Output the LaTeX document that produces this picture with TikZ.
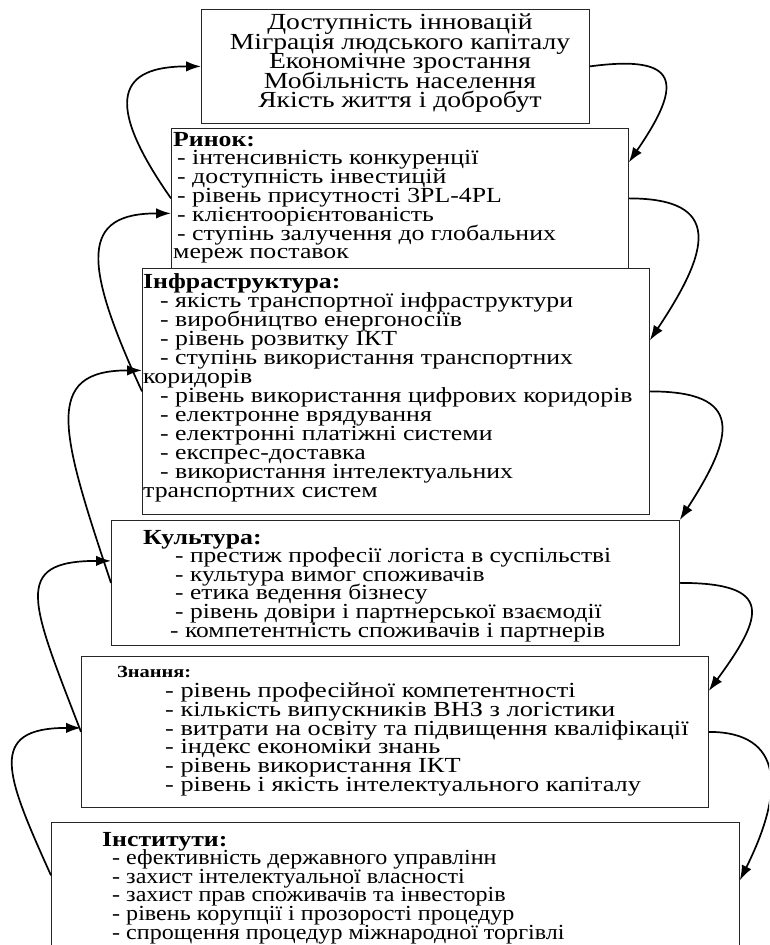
\documentclass[tikz,border=0pt]{standalone}
\usepackage{fontspec}
\setmainfont{Liberation Serif}[FakeStretch=1.2]
\newfontfamily\narrowf{Liberation Serif}[FakeStretch=1.12]
\newfontfamily\widef{Liberation Serif}[FakeStretch=1.225]
\newfontfamily\culf{Liberation Serif}[FakeStretch=1.185]
\newcommand\tightls{\lineskiplimit -100pt\relax}
\usetikzlibrary{arrows.meta}
\begin{document}
\tightls
\begin{tikzpicture}[x=1pt,y=1pt,
  box/.style={draw=black!85, line width=0.8pt, anchor=north west, inner sep=0pt},
  txt/.style={anchor=north west, inner sep=0pt, align=left, font=\fontsize{21.5}{18.8}\selectfont\tightls},
  arr/.style={line width=1.7pt, -{Latex[length=15pt,width=10.5pt]}}]
\useasboundingbox (0,0) rectangle (769,945);
\clip (0,0) rectangle (769,945);
% boxes
\node[box, minimum width=388pt, minimum height=114pt] (b1) at (201,936) {};
\node[box, minimum width=457pt, minimum height=140pt] (b2) at (171,817) {};
\node[box, minimum width=507pt, minimum height=246pt] (b3) at (142,677) {};
\node[box, minimum width=568pt, minimum height=125pt] (b4) at (111,425) {};
\node[box, minimum width=627pt, minimum height=151pt] (b5) at (81,289) {};
\node[box, minimum width=688pt, minimum height=140pt] (b6) at (51,123) {};
% texts
\node[txt, anchor=north, align=center, font=\fontsize{23}{19.6}\selectfont\tightls] (t1) at (400,931.5)
 {Доступність інновацій\\Міграція людського капіталу\\Економічне зростання\\Мобільність населення\\Якість життя і добробут};
\node[txt] (t2) at (173,813.2)
 {\textbf{Ринок:}\\
 \hspace*{4pt}- інтенсивність конкуренції\\
 \hspace*{4pt}- доступність інвестицій\\
 \hspace*{4pt}- рівень присутності 3PL-4PL\\
 \hspace*{4pt}- клієнтоорієнтованість\\
 \hspace*{4pt}- ступінь залучення до глобальних\\
 мереж поставок};
\node[txt, font=\fontsize{21.5}{19}\selectfont\tightls] (t3) at (143,671.8)
 {\textbf{Інфраструктура:}\\
 \hspace*{17pt}- якість транспортної інфраструктури\\
 \hspace*{17pt}- виробництво енергоносіїв\\
 \hspace*{17pt}- рівень розвитку ІКТ\\
 \hspace*{17pt}- ступінь використання транспортних\\
 коридорів\\
 \hspace*{17pt}- рівень використання цифрових коридорів\\
 \hspace*{17pt}- електронне врядування\\
 \hspace*{17pt}- електронні платіжні системи\\
 \hspace*{17pt}- експрес-доставка\\
 \hspace*{17pt}- використання інтелектуальних\\
 транспортних систем};
\node[txt, font=\fontsize{21.5}{18.6}\selectfont\tightls] (t4) at (143,415.2)
 {\textbf{Культура:}\\
 \culf\hspace*{32pt}- престиж професії логіста в суспільстві\\
 \culf\hspace*{32pt}- культура вимог споживачів\\
 \culf\hspace*{32pt}- етика ведення бізнесу\\
 \culf\hspace*{32pt}- рівень довіри і партнерської взаємодії\\
 \culf\hspace*{27pt}- компетентність споживачів і партнерів};
\node[txt, font=\fontsize{17}{19}\selectfont\bfseries] (t5h) at (117,278.5) {Знання:};
\node[txt, font=\fontsize{21.5}{18.7}\widef\tightls] (t5) at (165,262.3)
 {- рівень професійної компетентності\\
 - кількість випускників ВНЗ з логістики\\
 - витрати на освіту та підвищення кваліфікації\\
 - індекс економіки знань\\
 - рівень використання ІКТ\\
 - рівень і якість інтелектуального капіталу};
\node[txt, font=\fontsize{21.5}{18.6}\selectfont\tightls] (t6) at (102,113.2)
 {\textbf{Інститути:}\\
 \narrowf\hspace*{10pt}- ефективність державного управлінн\\
 \narrowf\hspace*{10pt}- захист інтелектуальної власності\\
 \narrowf\hspace*{10pt}- захист прав споживачів та інвесторів\\
 \narrowf\hspace*{10pt}- рівень корупції і прозорості процедур\\
 \narrowf\hspace*{10pt}- спрощення процедур міжнародної торгівлі};
% arrows left
\draw[arr] (b2.west) .. controls +(-70,100) and +(-80,0) .. (b1.west);
\draw[arr] (b3.west) .. controls +(-60,130) and +(-90,0) .. ([yshift=-15pt]b2.west);
\draw[arr] (b4.west) .. controls +(-50,150) and +(-100,0) .. ([yshift=21pt]b3.west);
\draw[arr] (b5.west) .. controls +(-50,130) and +(-100,0) .. ([yshift=22pt]b4.west);
\draw[arr] ([yshift=17pt]b6.west) .. controls +(-45,100) and +(-95,0) .. ([yshift=4pt]b5.west);
% arrows right
\draw[arr] (b1.east) .. controls +(90,12) and +(55,80) .. ([yshift=36pt]b2.east);
\draw[arr] (b2.east) .. controls +(95,0) and +(60,90) .. ([yshift=51pt]b3.east);
\draw[arr] (b3.east) .. controls +(95,0) and +(55,85) .. (b4.north east);
\draw[arr] (b4.east) .. controls +(95,0) and +(55,75) .. ([yshift=41pt]b5.east);
\draw[arr] (b5.east) .. controls +(75,0) and +(45,90) .. ([yshift=12pt]b6.east);
\end{tikzpicture}
\end{document}
